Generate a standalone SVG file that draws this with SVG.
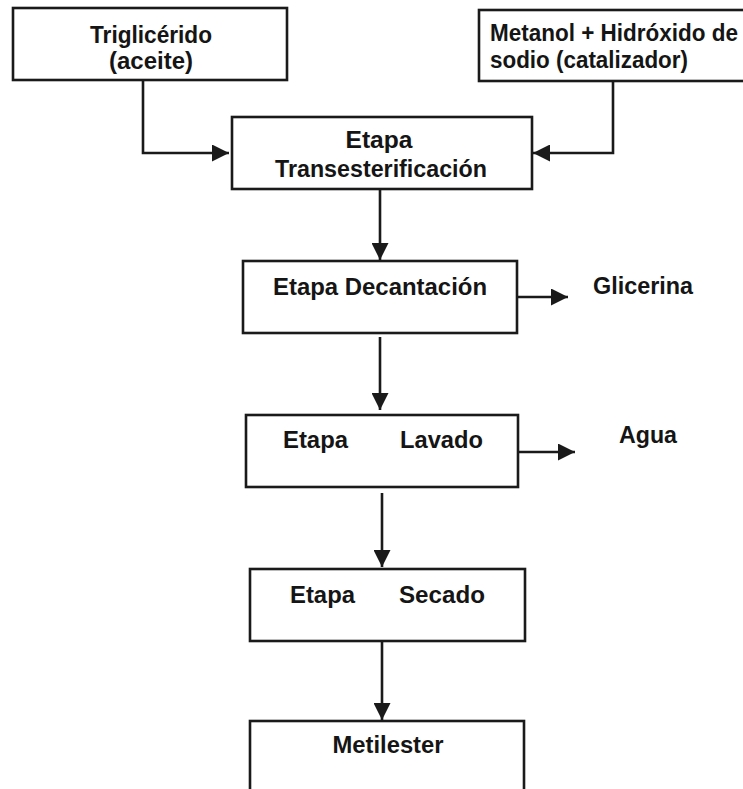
<svg xmlns="http://www.w3.org/2000/svg" width="743" height="789" viewBox="0 0 743 789">
<style>
.box{fill:#fff;stroke:#1a1a1a;stroke-width:2.6}
.t{font-family:"Liberation Sans",Arial,sans-serif;font-weight:bold;font-size:23px;fill:#151515}
.c{text-anchor:middle}
.ln{fill:none;stroke:#1a1a1a;stroke-width:2.6}
</style>
<defs>
<marker id="ah" markerWidth="17" markerHeight="17" refX="17" refY="8.5" orient="auto" markerUnits="userSpaceOnUse">
<path d="M0,0 L17,8.5 L0,17 Z" fill="#1a1a1a"/>
</marker>
</defs>
<rect width="743" height="789" fill="#fff"/>
<g id="connectors">
<polyline class="ln" points="143,80 143,153 229,153" marker-end="url(#ah)"/>
<polyline class="ln" points="613,81 613,153 533,153" marker-end="url(#ah)"/>
<line class="ln" x1="380" y1="189" x2="380" y2="260" marker-end="url(#ah)"/>
<line class="ln" x1="517" y1="297" x2="568" y2="297" marker-end="url(#ah)"/>
<line class="ln" x1="380" y1="337" x2="380" y2="410" marker-end="url(#ah)"/>
<line class="ln" x1="518" y1="452" x2="575" y2="452" marker-end="url(#ah)"/>
<line class="ln" x1="382" y1="493" x2="382" y2="567" marker-end="url(#ah)"/>
<line class="ln" x1="382" y1="642" x2="382" y2="720" marker-end="url(#ah)"/>
</g>
<g id="trigliceridos">
<rect class="box" x="13" y="8" width="274" height="72"/>
<text class="t c" x="151" y="43" font-size="25" textLength="122" lengthAdjust="spacingAndGlyphs">Triglicérido</text>
<text class="t c" x="151" y="69" font-size="25" textLength="84" lengthAdjust="spacingAndGlyphs">(aceite)</text>
</g>
<g id="metanol">
<rect class="box" x="479" y="10" width="275" height="71"/>
<text class="t" x="490" y="41" textLength="248" lengthAdjust="spacingAndGlyphs">Metanol + Hidróxido de</text>
<text class="t" x="490" y="68" textLength="198" lengthAdjust="spacingAndGlyphs">sodio (catalizador)</text>
</g>
<g id="transesterificacion">
<rect class="box" x="232" y="117" width="300" height="72"/>
<text class="t c" x="379" y="148" textLength="67" lengthAdjust="spacingAndGlyphs">Etapa</text>
<text class="t c" x="381" y="177" textLength="212" lengthAdjust="spacingAndGlyphs">Transesterificación</text>
</g>
<g id="decantacion">
<rect class="box" x="243" y="261" width="274" height="72"/>
<text class="t c" x="380" y="295" textLength="214" lengthAdjust="spacingAndGlyphs">Etapa Decantación</text>
</g>
<g id="glicerina">
<text class="t" x="593" y="294" textLength="100" lengthAdjust="spacingAndGlyphs">Glicerina</text>
</g>
<g id="lavado">
<rect class="box" x="246" y="415" width="272" height="72"/>
<text class="t" x="283" y="448" textLength="65" lengthAdjust="spacingAndGlyphs">Etapa</text>
<text class="t" x="400" y="448" textLength="83" lengthAdjust="spacingAndGlyphs">Lavado</text>
</g>
<g id="agua">
<text class="t" x="619" y="443" textLength="58" lengthAdjust="spacingAndGlyphs">Agua</text>
</g>
<g id="secado">
<rect class="box" x="250" y="569" width="275" height="72"/>
<text class="t" x="290" y="603" textLength="65" lengthAdjust="spacingAndGlyphs">Etapa</text>
<text class="t" x="399" y="603" textLength="86" lengthAdjust="spacingAndGlyphs">Secado</text>
</g>
<g id="metilester">
<rect class="box" x="250" y="721" width="274" height="90"/>
<text class="t c" x="388" y="753" textLength="111" lengthAdjust="spacingAndGlyphs">Metilester</text>
</g>
</svg>
